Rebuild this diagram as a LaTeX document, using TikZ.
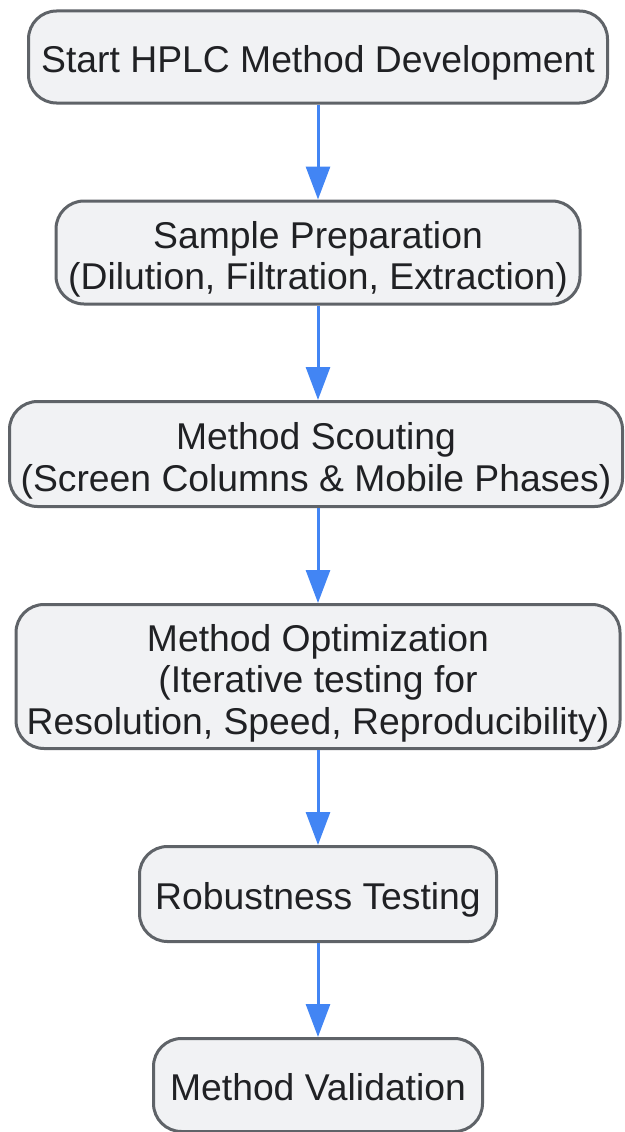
\documentclass[tikz,border=0pt]{standalone}
\usepackage{fontspec}
\setmainfont{Liberation Sans}
\usetikzlibrary{arrows.meta}
\definecolor{boxfill}{HTML}{F1F2F4}
\definecolor{boxline}{HTML}{5F6368}
\definecolor{boxtext}{HTML}{202124}
\definecolor{flowblue}{HTML}{4285F4}
\newcommand\topstrut{\rule{0pt}{38pt}}
\newcommand\botstrut{\rule[-8pt]{0pt}{8pt}}
\newcommand\stagelines[1]{\raisebox{-8pt}[\height][\depth]{\begin{tabular}{@{}c@{}}#1\end{tabular}}}
\tikzset{
  stage/.style={draw=boxline, fill=boxfill, line width=3pt, rounded corners=28pt,
    text=boxtext, align=center, inner sep=0pt,
    font=\fontsize{37.3}{41.5}\selectfont,
    execute at begin node=\topstrut, execute at end node=\botstrut},
  multistage/.style={stage, execute at begin node={}, execute at end node={}},
  flow/.style={draw=flowblue, line width=3pt, -{Triangle[length=33pt,width=24pt]}}
}
\begin{document}
\begin{tikzpicture}[x=1pt,y=1pt,yscale=-1,xscale=1]
            \useasboundingbox (0,0) rectangle (624,1132);
            \node[stage, minimum width=579pt, minimum height=92pt] (start) at (318,57) {Start HPLC Method Development};
            \node[multistage, minimum width=524pt, minimum height=103pt] (prep) at (318,252.5) {\stagelines{Sample Preparation\\(Dilution, Filtration, Extraction)}};
            \node[multistage, minimum width=613pt, minimum height=105pt] (scout) at (316,454) {\stagelines{Method Scouting\\(Screen Columns \& Mobile Phases)}};
            \node[multistage, minimum width=604pt, minimum height=144pt] (optim) at (318,676.5) {\stagelines{Method Optimization\\(Iterative testing for\\Resolution, Speed, Reproducibility)}};
            \node[stage, minimum width=357pt, minimum height=95pt] (robust) at (318,894) {Robustness Testing};
            \node[stage, minimum width=329pt, minimum height=93pt] (valid) at (318,1085) {Method Validation};
            % connectors
            \draw[flow] (start) -- (prep);
            \draw[flow] (prep) -- (scout.north -| prep.south);
            \draw[flow] (scout.south -| prep.south) -- (optim);
            \draw[flow] (optim) -- (robust);
            \draw[flow] (robust) -- (valid);
\end{tikzpicture}
\end{document}
